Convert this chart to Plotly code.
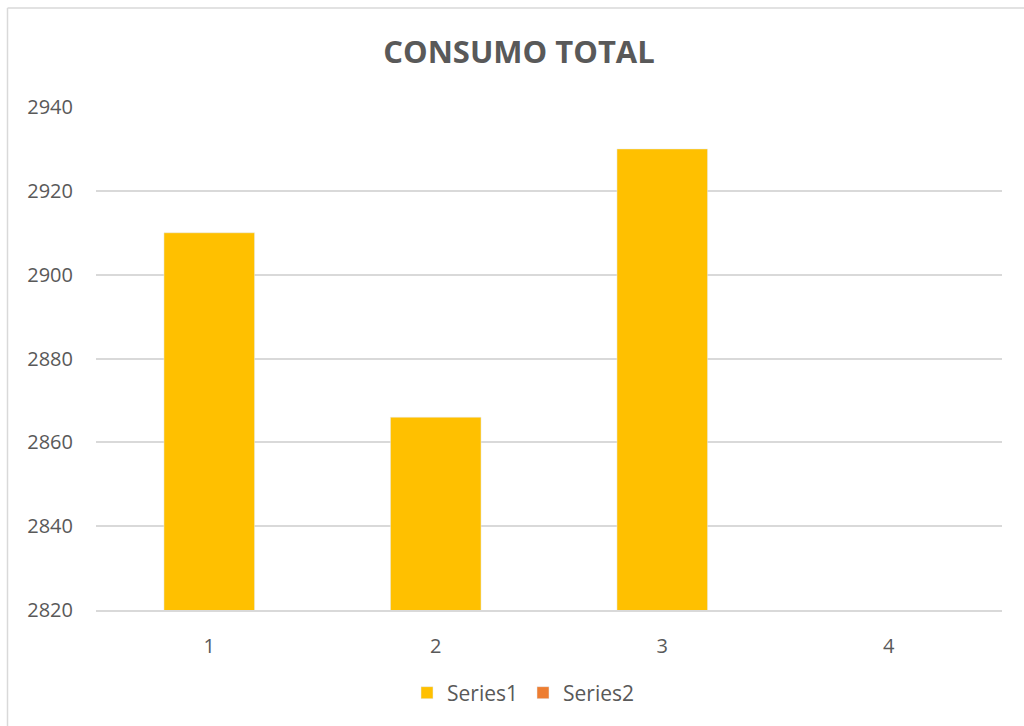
import plotly.graph_objects as go

categories = ["1", "2", "3", "4"]
series1 = [2910, 2866, 2930, None]
series2 = [None, None, None, None]
y_ticks = [2820, 2840, 2860, 2880, 2900, 2920, 2940]

TXT = "#595959"
GRID = "#D9D9D9"
FONT = "Open Sans, Liberation Sans, sans-serif"

fig = go.Figure()
fig.add_trace(go.Bar(x=categories, y=series1, name="Series1", marker_color="#FFC000",
                     width=0.4))
fig.add_trace(go.Bar(x=categories, y=series2, name="Series2", marker_color="#ED7D31",
                     width=0.4))

W, H = 1024, 726
ml, mr, mt, mb = 96, 22, 107, 116
pw, ph = W - ml - mr, H - mt - mb

fig.update_layout(
    width=W, height=H,
    margin=dict(l=ml, r=mr, t=mt, b=mb, pad=0),
    paper_bgcolor="white", plot_bgcolor="white",
    barmode="overlay",
    font=dict(family=FONT, color=TXT, size=20),
    title=dict(text="<b>CONSUMO TOTAL</b>", x=519 / W, xref="container", xanchor="center",
               y=1 - 52 / H, yref="container", yanchor="middle",
               font=dict(family=FONT, size=31, color=TXT)),
    showlegend=True,
    legend=dict(orientation="h", x=523 / W, xref="container", xanchor="center",
                y=1 - 693 / H, yref="container", yanchor="middle",
                font=dict(size=21, color=TXT), itemwidth=30, traceorder="normal"),
    xaxis=dict(type="category", showgrid=False, showline=True, linecolor=GRID, linewidth=1.5,
               ticks="", tickfont=dict(size=20, color=TXT), ticklabelstandoff=17,
               range=[-0.5, 3.5]),
    yaxis=dict(range=[2820, 2940], tickvals=y_ticks, showgrid=True, gridcolor=GRID,
               gridwidth=1.5, zeroline=False, showline=False, ticks="",
               tickfont=dict(size=20, color=TXT), ticklabelstandoff=22),
    shapes=[
        dict(type="line", xref="paper", yref="paper",
             x0=(7.5 - ml) / pw, x1=(7.5 - ml) / pw, y0=-1, y1=1 + (mt - 8) / ph,
             line=dict(color=GRID, width=1.5)),
        dict(type="line", xref="paper", yref="paper",
             x0=(7.5 - ml) / pw, x1=2, y0=1 + (mt - 8) / ph, y1=1 + (mt - 8) / ph,
             line=dict(color=GRID, width=1.5)),
    ],
)

fig.write_html("out.html")
